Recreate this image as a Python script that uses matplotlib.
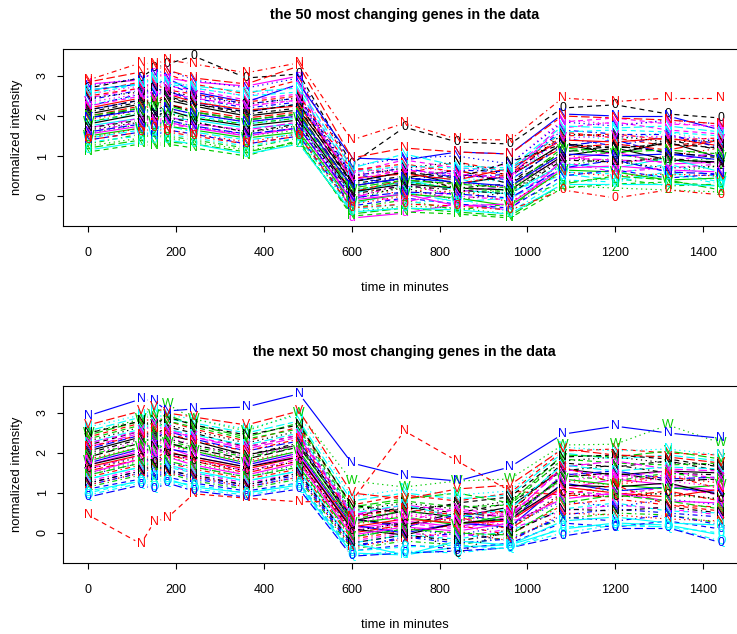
import numpy as np
import matplotlib
matplotlib.use("Agg")
import matplotlib.pyplot as plt
from matplotlib.collections import LineCollection

# sampling times (minutes)
minutes = [0, 120, 150, 180, 240, 360, 480, 600, 720, 840, 960, 1080, 1200, 1320, 1440]

# normalized intensity of the 50 most changing genes
top_genes = [
    [2.05, 2.30, 2.45, 2.40, 2.25, 2.00, 2.15, 0.35, 0.60, 0.30, 0.50, 1.30, 1.05, 1.35, 0.95],
    [2.60, 2.85, 2.95, 3.05, 2.80, 2.55, 2.90, 0.70, 0.55, 0.85, 0.60, 1.60, 1.45, 1.25, 1.40],
    [1.55, 1.80, 1.70, 1.85, 1.75, 1.50, 1.65, -0.10, 0.25, 0.05, 0.15, 0.75, 0.95, 0.60, 0.75],
    [2.25, 2.55, 2.70, 2.60, 2.45, 2.20, 2.35, 0.50, 0.70, 0.45, 0.55, 1.45, 1.25, 1.50, 1.30],
    [1.45, 1.65, 1.60, 1.75, 1.60, 1.40, 1.55, -0.20, 0.10, -0.15, -0.05, 0.55, 0.40, 0.60, 0.35],
    [2.80, 2.90, 3.10, 2.95, 2.85, 2.75, 3.00, -0.55, -0.43, -0.20, -0.35, 0.90, 1.10, 0.80, 0.85],
    [2.70, 2.95, 3.20, 3.30, 3.50, 2.95, 3.05, 0.80, 1.72, 1.35, 1.30, 2.20, 2.28, 2.05, 1.95],
    [1.90, 2.15, 2.30, 2.20, 2.05, 1.85, 2.00, 0.20, 0.05, 0.35, 0.20, 1.05, 0.80, 1.00, 1.20],
    [1.30, 1.55, 1.45, 1.50, 1.40, 1.20, 1.45, -0.30, -0.10, -0.35, -0.20, 0.35, 0.45, 0.25, 0.30],
    [2.15, 2.40, 2.55, 2.65, 2.35, 2.10, 2.30, 0.45, 0.30, 0.55, 0.40, 1.25, 1.40, 1.05, 1.00],
    [1.75, 1.95, 2.05, 1.95, 1.90, 1.70, 1.80, 0.05, 0.40, 0.15, 0.05, 0.80, 0.70, 0.95, 0.60],
    [2.45, 2.70, 2.85, 2.75, 2.65, 2.40, 2.55, 0.60, 0.90, 0.70, 0.65, 1.70, 1.85, 1.65, 1.55],
    [1.65, 1.85, 2.00, 2.10, 1.85, 1.60, 1.75, 0.00, 0.20, -0.10, 0.10, 0.95, 0.85, 0.70, 0.75],
    [2.90, 3.33, 3.30, 3.40, 3.30, 3.08, 3.33, 1.40, 1.82, 1.42, 1.40, 2.45, 2.36, 2.45, 2.45],
    [1.20, 1.40, 1.30, 1.35, 1.30, 1.10, 1.35, -0.45, -0.30, -0.40, -0.50, 0.30, 0.50, 0.40, 0.15],
    [2.65, 2.80, 2.75, 2.95, 2.60, 2.35, 2.80, 0.95, 0.90, 1.10, 1.05, 2.05, 2.00, 2.00, 1.65],
    [1.85, 2.05, 2.20, 2.10, 2.00, 1.80, 1.95, 0.15, 0.30, 0.45, 0.10, 0.60, 0.55, 0.80, 0.45],
    [2.55, 2.75, 2.65, 2.90, 2.70, 2.50, 2.75, 0.55, 0.75, 0.60, 0.80, 1.90, 1.80, 1.85, 1.70],
    [2.10, 2.35, 2.25, 2.45, 2.30, 2.05, 2.20, 0.30, 0.50, 0.20, 0.30, 1.35, 1.05, 1.40, 1.15],
    [2.00, 2.25, 2.40, 2.30, 2.15, 1.95, 2.10, 0.10, 0.40, 0.30, 0.55, 1.20, 1.30, 1.15, 1.40],
    [1.50, 1.70, 1.85, 1.75, 1.65, 1.45, 1.60, -0.15, 0.05, -0.05, -0.25, 0.65, 0.60, 0.40, 0.45],
    [1.40, 1.60, 1.50, 1.65, 1.55, 1.30, 1.50, -0.25, -0.05, -0.20, -0.30, 0.50, 0.65, 0.45, 0.55],
    [2.30, 2.50, 2.60, 2.50, 2.40, 2.15, 2.30, 0.40, 0.20, 0.45, 0.35, 1.55, 1.40, 1.60, 1.35],
    [1.60, 1.85, 1.95, 1.80, 1.70, 1.55, 1.70, -0.05, 0.30, 0.00, -0.10, 0.85, 0.60, 0.70, 0.80],
    [1.95, 2.20, 2.10, 2.30, 2.10, 1.90, 2.05, 0.25, 0.45, 0.65, 0.30, 1.10, 1.25, 1.10, 0.95],
    [2.20, 2.45, 2.35, 2.55, 2.35, 2.15, 2.25, 0.45, 0.55, 0.40, 0.70, 1.40, 1.35, 1.45, 1.25],
    [1.10, 1.30, 1.25, 1.30, 1.20, 1.00, 1.40, -0.50, -0.40, -0.45, -0.55, 0.20, 0.30, 0.35, 0.25],
    [2.75, 2.95, 3.05, 3.15, 2.90, 2.70, 2.95, 0.75, 0.95, 1.00, 0.80, 1.85, 1.75, 1.90, 1.80],
    [1.35, 1.50, 1.65, 1.55, 1.45, 1.25, 1.45, -0.35, -0.20, -0.05, -0.40, 0.40, 0.35, 0.55, 0.30],
    [1.70, 1.95, 1.85, 2.00, 1.80, 1.65, 1.85, 0.05, -0.15, 0.10, 0.25, 0.95, 0.90, 0.85, 1.10],
    [1.80, 2.05, 1.95, 2.15, 1.95, 1.75, 1.90, 0.10, 0.30, 0.20, 0.15, 1.00, 1.20, 0.90, 0.85],
    [2.50, 2.70, 2.80, 2.65, 2.55, 2.35, 2.50, 0.65, 0.80, 0.60, 0.55, 1.50, 1.55, 1.40, 1.45],
    [1.25, 1.45, 1.55, 1.45, 1.35, 1.15, 1.30, -0.40, -0.25, -0.30, -0.45, 0.25, 0.20, 0.15, 0.10],
    [2.40, 2.65, 2.55, 2.80, 2.55, 2.30, 2.45, 0.55, 0.35, 0.65, 0.60, 1.65, 1.55, 1.55, 1.20],
    [2.65, 2.80, 2.95, 2.85, 2.75, 2.60, 2.70, 0.70, 1.05, 0.75, 0.70, 1.75, 1.70, 1.75, 1.60],
    [1.55, 1.75, 1.90, 1.85, 1.70, 1.50, 1.70, -0.10, 0.05, -0.25, -0.20, 0.70, 0.75, 0.65, 0.60],
    [2.15, 2.40, 2.30, 2.50, 2.30, 2.10, 2.30, 0.35, 0.60, 0.45, 0.85, 1.30, 1.20, 1.30, 1.20],
    [1.45, 1.70, 1.80, 1.65, 1.55, 1.35, 1.55, -0.20, 0.00, 0.15, -0.15, 0.60, 0.50, 0.55, 0.50],
    [1.85, 2.10, 2.20, 2.05, 1.95, 1.80, 1.95, 0.15, 0.35, 0.20, 0.10, 1.15, 1.05, 0.85, 0.95],
    [1.60, 1.80, 1.75, 1.90, 1.75, 1.55, 1.70, -0.05, 0.10, 0.05, -0.05, 0.70, 0.90, 0.60, 0.55],
    [1.15, 1.35, 1.40, 1.40, 1.30, 1.05, 1.30, -0.40, -0.30, -0.35, -0.45, 0.30, 0.30, 0.30, 0.25],
    [2.25, 2.50, 2.65, 2.55, 2.45, 2.25, 2.40, 0.40, 0.65, 0.55, 0.45, 1.85, 1.95, 1.80, 1.75],
    [2.45, 2.60, 2.70, 2.60, 2.50, 2.30, 2.45, 0.50, 0.70, 0.85, 0.50, 1.55, 1.50, 1.35, 1.40],
    [1.40, 1.60, 1.70, 1.60, 1.50, 1.30, 1.50, -0.30, -0.20, -0.25, -0.35, 0.15, -0.05, 0.15, 0.03],
    [2.00, 2.20, 2.35, 2.25, 2.10, 1.90, 2.05, 0.20, 0.40, 0.30, 0.20, 1.20, 1.10, 1.15, 1.05],
    [1.95, 2.15, 2.05, 2.20, 2.05, 1.85, 2.00, 0.25, 0.45, 0.35, 0.25, 1.05, 1.00, 1.05, 0.90],
    [2.55, 2.80, 2.90, 2.80, 2.70, 2.50, 2.60, 0.60, 0.75, 0.70, 0.65, 1.60, 1.65, 1.60, 1.50],
    [2.35, 2.55, 2.45, 2.70, 2.50, 2.25, 2.40, 0.50, 0.65, 0.50, 0.45, 1.45, 1.50, 1.50, 1.40],
    [1.70, 1.90, 2.05, 1.95, 1.85, 1.60, 1.80, 0.05, 0.25, 0.15, 0.05, 0.90, 0.85, 0.95, 0.80],
    [2.85, 3.10, 3.25, 3.15, 2.95, 2.80, 3.25, 0.95, 1.20, 1.10, 1.05, 2.00, 1.95, 1.90, 1.80],
]
top_marks = "NNVNWd0NNX" "NNZNNNVNNN" "WNNXNNNNVN" "NNZNNNNNWN" "0NN0NNNVNN"

# normalized intensity of the next 50 most changing genes
bottom_genes = [
    [2.05, 2.40, 2.55, 2.45, 2.30, 1.95, 2.20, 0.30, 0.55, 0.40, 0.65, 1.60, 1.45, 1.55, 1.50],
    [2.40, 2.75, 2.90, 2.80, 2.60, 2.30, 2.65, 0.70, 0.95, 0.80, 1.00, 2.05, 2.10, 2.00, 1.95],
    [1.50, 1.80, 1.70, 1.90, 1.75, 1.45, 1.70, -0.10, 0.20, 0.35, 0.10, 0.90, 1.10, 0.95, 0.85],
    [1.25, 1.55, 1.45, 1.60, 1.40, 1.20, 1.45, -0.30, -0.15, 0.00, -0.20, 0.45, 0.60, 0.50, 0.40],
    [2.55, 2.90, 3.00, 2.85, 2.75, 2.50, 2.80, 0.80, 1.00, 0.85, 0.95, 2.00, 1.85, 1.95, 1.80],
    [1.70, 2.05, 1.95, 2.15, 1.90, 1.65, 1.95, 0.10, 0.30, 0.15, 0.40, 1.10, 1.35, 1.20, 1.05],
    [2.20, 2.55, 2.45, 2.65, 2.50, 2.15, 2.45, 0.45, 0.60, 0.70, 0.50, 1.75, 1.65, 1.80, 1.55],
    [1.85, 2.15, 2.30, 2.20, 2.05, 1.80, 2.05, 0.20, 0.45, 0.30, 0.55, 1.30, 1.20, 1.40, 1.25],
    [1.15, 1.45, 1.35, 1.50, 1.30, 1.10, 1.35, -0.40, -0.20, -0.30, -0.10, 0.35, 0.50, 0.45, 0.25],
    [2.10, 2.45, 2.35, 2.55, 2.35, 2.05, 2.30, 0.35, 0.15, 0.45, 0.30, 1.45, 1.55, 1.35, 1.40],
    [1.05, 1.30, 1.25, 1.35, 1.15, 1.00, 1.20, -0.50, -0.55, -0.35, -0.30, 0.10, 0.25, 0.20, -0.05],
    [1.60, 1.95, 2.10, 1.95, 1.85, 1.55, 1.85, 0.05, 0.25, 0.10, 0.35, 1.05, 0.95, 1.15, 0.95],
    [2.30, 2.65, 2.80, 2.70, 2.55, 2.25, 2.55, 0.55, 0.75, 0.60, 0.80, 1.80, 1.90, 1.75, 1.70],
    [1.40, 1.70, 1.60, 1.75, 1.60, 1.35, 1.60, -0.15, 0.05, 0.20, -0.05, 0.70, 0.85, 0.70, 0.65],
    [2.45, 2.80, 2.70, 2.95, 2.70, 2.40, 2.75, 0.65, 0.85, 1.00, 0.75, 1.95, 1.90, 2.05, 1.85],
    [1.75, 2.10, 2.25, 2.10, 2.00, 1.70, 2.00, 0.20, 0.00, 0.25, 0.15, 1.25, 1.05, 1.15, 1.00],
    [1.35, 1.65, 1.80, 1.65, 1.50, 1.30, 1.55, -0.25, -0.05, -0.15, 0.05, 0.60, 0.75, 0.55, 0.50],
    [1.95, 2.30, 2.20, 2.40, 2.20, 1.90, 2.20, 0.30, 0.50, 0.35, 0.20, 1.50, 1.35, 1.45, 1.30],
    [2.00, 2.35, 2.50, 2.35, 2.20, 1.95, 2.25, 0.40, 0.65, 0.50, 0.75, 1.55, 1.70, 1.50, 1.45],
    [1.55, 1.85, 1.75, 1.95, 1.80, 1.50, 1.80, 0.00, 0.20, 0.40, 0.10, 0.95, 0.90, 1.05, 0.80],
    [1.80, 2.15, 2.05, 2.25, 2.05, 1.75, 2.05, 0.25, 0.40, 0.20, 0.45, 1.35, 1.20, 1.10, 1.20],
    [1.10, 1.35, 1.50, 1.40, 1.25, 1.05, 1.25, -0.45, -0.30, -0.40, -0.25, 0.25, 0.15, 0.30, 0.10],
    [2.65, 2.95, 3.10, 2.95, 2.85, 2.60, 2.95, 0.90, 1.10, 0.95, 1.05, 2.15, 2.05, 2.10, 1.95],
    [1.30, 1.60, 1.55, 1.70, 1.50, 1.25, 1.50, -0.20, 0.00, -0.10, 0.10, 0.55, 0.70, 0.60, 0.45],
    [1.90, 2.25, 2.40, 2.25, 2.10, 1.85, 2.15, 0.35, 0.20, 0.50, 0.40, 1.40, 1.50, 1.30, 1.35],
    [1.65, 1.95, 1.85, 2.05, 1.85, 1.60, 1.90, 0.15, 0.35, 0.25, 0.30, 1.15, 1.00, 0.90, 1.10],
    [2.35, 2.70, 2.60, 2.80, 2.65, 2.35, 2.60, 0.60, 0.80, 0.65, 0.70, 1.85, 1.75, 1.70, 1.75],
    [1.45, 1.75, 1.90, 1.75, 1.65, 1.40, 1.65, -0.10, 0.10, -0.05, 0.20, 0.80, 0.65, 0.85, 0.70],
    [0.95, 1.25, 1.15, 1.30, 1.10, 0.95, 1.15, -0.55, -0.45, -0.50, -0.35, 0.00, 0.20, 0.15, -0.20],
    [2.15, 2.50, 2.40, 2.60, 2.40, 2.10, 2.40, 0.45, 0.70, 0.55, 0.40, 1.65, 1.80, 1.60, 1.55],
    [1.70, 2.00, 2.15, 2.00, 1.90, 1.65, 1.90, 0.10, -0.05, 0.25, 0.35, 1.20, 1.15, 1.25, 0.95],
    [0.45, -0.27, 0.28, 0.38, 0.98, 0.87, 0.78, 0.80, 2.55, 1.80, 1.05, 0.95, 1.20, 0.70, 0.55],
    [2.50, 2.85, 2.95, 3.22, 2.85, 2.55, 3.00, 1.30, 1.15, 1.30, 1.35, 2.20, 2.22, 2.70, 2.25],
    [1.20, 1.50, 1.40, 1.55, 1.35, 1.15, 1.40, -0.35, -0.10, -0.25, -0.15, 0.40, 0.30, 0.45, 0.20],
    [2.25, 2.60, 2.75, 2.60, 2.45, 2.20, 2.50, 0.50, 0.70, 0.40, 0.60, 1.70, 1.55, 1.65, 1.60],
    [1.50, 1.85, 1.75, 1.90, 1.70, 1.45, 1.75, -0.05, 0.15, 0.05, 0.25, 0.85, 1.00, 0.80, 0.75],
    [2.50, 2.80, 2.70, 2.90, 2.70, 2.45, 2.70, 0.70, 0.50, 0.75, 0.90, 1.90, 1.95, 1.85, 1.65],
    [1.20, 1.50, 1.65, 1.50, 1.40, 1.15, 1.40, -0.35, -0.15, 0.05, -0.20, 0.50, 0.45, 0.35, 0.30],
    [1.95, 2.25, 2.40, 2.30, 2.15, 1.90, 2.15, 0.35, 0.55, 0.40, 0.30, 1.45, 1.30, 1.50, 1.35],
    [0.90, 1.20, 1.10, 1.25, 1.05, 0.90, 1.10, -0.58, -0.50, -0.45, -0.37, -0.08, 0.13, 0.13, -0.24],
    [1.35, 1.65, 1.55, 1.70, 1.55, 1.30, 1.55, -0.25, -0.55, -0.20, -0.30, 0.30, 0.40, 0.25, 0.20],
    [2.25, 2.55, 2.70, 2.55, 2.40, 2.15, 2.45, 0.50, 0.30, 0.60, 0.45, 1.60, 1.40, 1.55, 1.35],
    [1.60, 1.90, 1.80, 2.00, 1.80, 1.55, 1.80, 0.05, 0.25, -0.53, 0.15, 1.00, 0.90, 1.00, 0.85],
    [2.15, 2.45, 2.60, 2.50, 2.30, 2.05, 2.35, 0.40, 0.60, 0.45, 0.55, 1.65, 1.25, 1.45, 1.10],
    [1.45, 1.75, 1.65, 1.80, 1.65, 1.40, 1.65, -0.10, 0.10, 0.00, -0.05, 0.75, 0.95, 0.80, 0.60],
    [2.93, 3.35, 3.30, 3.05, 3.10, 3.15, 3.48, 1.75, 1.42, 1.30, 1.65, 2.47, 2.67, 2.50, 2.37],
    [1.00, 1.30, 1.40, 1.30, 1.20, 1.00, 1.25, -0.45, -0.35, -0.30, -0.40, 0.15, 0.20, 0.15, 0.00],
    [1.80, 2.10, 2.00, 2.20, 2.00, 1.75, 2.00, 0.25, 0.45, 0.30, 0.50, 1.30, 1.45, 1.30, 1.15],
    [1.25, 1.55, 1.70, 1.55, 1.45, 1.20, 1.50, -0.25, -0.05, -0.20, 0.00, 0.60, 0.55, 0.65, 0.50],
    [2.70, 3.05, 3.15, 3.00, 2.90, 2.70, 3.05, 1.00, 0.85, 1.10, 1.20, 2.10, 1.95, 1.90, 1.75],
]
bottom_marks = "NNVNNNNNXN" "0NNNVNNXNN" "W0NNNNVNQN" "NNWNNNNNN0" "NXcNNN0NNV"

titles = ["the 50 most changing genes in the data",
          "the next 50 most changing genes in the data"]
x_label = "time in minutes"
y_label = "normalized intensity"
x_ticks = [0, 200, 400, 600, 800, 1000, 1200, 1400]
y_ticks = [0, 1, 2, 3]

# base graphics style: six-colour palette, five line types
palette = ["#000000", "#FF0000", "#00CD00", "#0000FF", "#00FFFF", "#FF00FF"]
PT = 0.72  # points per pixel at 100 dpi
line_types = ["-",
              (0, (5 * PT, 4 * PT)),
              (0, (1.3 * PT, 3.5 * PT)),
              (0, (1.3 * PT, 3.5 * PT, 5 * PT, 3.5 * PT)),
              (0, (8.5 * PT, 3.5 * PT))]

plt.rcParams["lines.scale_dashes"] = False
plt.rcParams["font.family"] = ["Liberation Sans", "DejaVu Sans"]
base_fs, label_fs, title_fs, mark_fs = 9.0, 9.4, 10.4, 8.8

W, H = 737, 634
fig = plt.figure(figsize=(W / 100, H / 100), dpi=100)
fig.patch.set_facecolor("white")

x_lim = (-57.6, 1497.6)
y_lim = (-0.75, 3.675)
GAP = 6.5  # pixels left blank around each plotted character


def gapped(ax, xs, ys):
    tr = ax.transData
    inv = tr.inverted()
    pts = tr.transform(np.column_stack([xs, ys]))
    segs = []
    for a, b in zip(pts[:-1], pts[1:]):
        d = b - a
        L = np.hypot(d[0], d[1])
        if L <= 2 * GAP:
            continue
        u = d / L
        segs.append(inv.transform(np.array([a + u * GAP, b - u * GAP])))
    return segs


def panel(box_top, box_bottom, genes, marks, title):
    left, right = 63, 746
    ax = fig.add_axes([left / W, 1 - box_bottom / H,
                       (right - left) / W, (box_bottom - box_top) / H])
    ax.set_xlim(*x_lim)
    ax.set_ylim(*y_lim)
    for s in ax.spines.values():
        s.set_linewidth(0.8)
    ax.set_xticks(x_ticks)
    ax.set_xticklabels([str(v) for v in x_ticks], fontsize=base_fs)
    ax.set_yticks(y_ticks)
    ax.set_yticklabels([str(v) for v in y_ticks], fontsize=base_fs,
                       rotation=90, va="center")
    ax.tick_params(axis="x", direction="out", length=4.3, width=0.8, pad=10.5)
    ax.tick_params(axis="y", direction="out", length=4.3, width=0.8, pad=6.0)

    for i, (vals, ch) in enumerate(zip(genes, marks)):
        col = palette[i % 6]
        ls = line_types[i % 5]
        lc = LineCollection(gapped(ax, minutes, vals), colors=col,
                            linewidths=0.85, linestyles=ls)
        ax.add_collection(lc)
        for t, v in zip(minutes, vals):
            ax.text(t, v, ch, color=col, fontsize=mark_fs, ha="center",
                    va="center", clip_on=True)

    cx = (left + right) / 2
    mid = (box_top + box_bottom) / 2
    fig.text(cx / W, 1 - (box_top - 34) / H, title, fontsize=title_fs,
             fontweight="bold", ha="center", va="center")
    fig.text(cx / W, 1 - (box_bottom + 62) / H, x_label, fontsize=label_fs,
             ha="center", va="center")
    fig.text(17 / W, 1 - mid / H, y_label, fontsize=label_fs, rotation=90,
             ha="center", va="center")
    return ax


panel(49, 226, top_genes, top_marks, titles[0])
panel(386, 563, bottom_genes, bottom_marks, titles[1])

fig.savefig("out.png", dpi=100, facecolor="white")
